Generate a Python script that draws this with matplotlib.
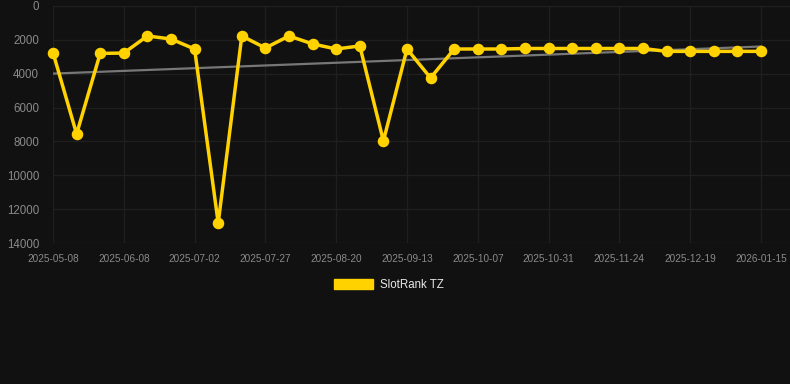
import matplotlib
matplotlib.use("Agg")
import matplotlib.pyplot as plt
import numpy as np

dates = ["2025-05-08", "2025-05-18", "2025-05-28", "2025-06-08", "2025-06-16", "2025-06-24",
         "2025-07-02", "2025-07-10", "2025-07-18", "2025-07-27", "2025-08-04", "2025-08-12",
         "2025-08-20", "2025-08-28", "2025-09-05", "2025-09-13", "2025-09-21", "2025-09-29",
         "2025-10-07", "2025-10-15", "2025-10-23", "2025-10-31", "2025-11-08", "2025-11-16",
         "2025-11-24", "2025-12-02", "2025-12-10", "2025-12-19", "2025-12-28", "2026-01-06",
         "2026-01-15"]
ranks = [2750, 7560, 2800, 2780, 1770, 1950, 2540, 12820, 1770, 2480, 1770, 2240,
         2540, 2360, 7970, 2540, 4250, 2540, 2540, 2540, 2510, 2510, 2510, 2510,
         2510, 2510, 2680, 2680, 2680, 2680, 2680]
yticks = [0, 2000, 4000, 6000, 8000, 10000, 12000, 14000]
series_name = "SlotRank TZ"

bg = "#111111"
gold = "#FFD200"

fig = plt.figure(figsize=(7.9, 3.84), dpi=100, facecolor=bg)
ax = fig.add_axes([53/790, 1-243/384, (790-53)/790, (243-6)/384])
ax.set_facecolor(bg)

x = np.arange(len(dates))
coef = np.polyfit(x, ranks, 1)
ax.plot(x, np.polyval(coef, x), color="#777777", lw=1.6, zorder=2)
ax.plot(x, ranks, color=gold, lw=2.5, marker="o", ms=7.3, zorder=3,
        solid_joinstyle="miter", clip_on=False)

n = len(dates) - 1
ax.set_xlim(0, n * (790-53) / (761-53))
ax.set_ylim(14000, 0)
ax.set_yticks(yticks)
ax.set_yticklabels([str(t) for t in yticks])
ax.set_xticks(x[::3])
ax.set_xticklabels([dates[i] for i in x[::3]])

for s in ax.spines.values():
    s.set_visible(False)
ax.grid(True, color="#1f1f1f", lw=1)
ax.set_axisbelow(True)
ax.tick_params(axis="y", length=0, pad=10, labelsize=8.3, labelcolor="#8a8a8a")
ax.tick_params(axis="x", length=0, pad=8, labelsize=7.2, labelcolor="#8a8a8a")
for lab in ax.get_xticklabels() + ax.get_yticklabels():
    lab.set_fontfamily("Liberation Sans")

# legend
fig.patches.append(plt.Rectangle((334/790, 1-289/384), 39/790, 10/384,
                                 transform=fig.transFigure, color=gold))
fig.text(380/790, 1-284.5/384, series_name, color="#e8e8e8", fontsize=8.3,
         fontfamily="Liberation Sans", va="center", ha="left")

fig.savefig("out.png", dpi=100, facecolor=bg)
